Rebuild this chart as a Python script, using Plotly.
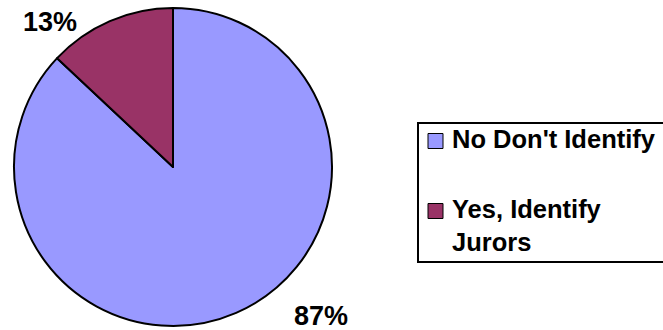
import plotly.graph_objects as go

labels = ["No Don't Identify", "Yes, Identify Jurors"]
legend_text = ["No Don't Identify", "Yes, Identify<br>Jurors"]
values = [87, 13]
colors = ["#9999FF", "#993366"]

W, H = 663, 330
def px(x):
    return x / W
def py(y):
    return 1 - y / H

cx, cy, r = 173, 167, 159

fig = go.Figure(go.Pie(
    labels=labels, values=values, sort=False, direction="clockwise", rotation=0,
    marker=dict(colors=colors, line=dict(color="black", width=2)),
    textinfo="none", hoverinfo="label+percent", showlegend=False,
    domain=dict(x=[px(cx - r), px(cx + r)], y=[py(cy + r), py(cy - r)]),
))

font = dict(family="Arial, 'Liberation Sans', sans-serif", color="black")
total = sum(values)
pct = [f"{round(v * 100 / total)}%" for v in values]
label_pos = [(321, 316), (50, 22)]
annotations = []
for t, (x, y) in zip(pct, label_pos):
    annotations.append(dict(x=px(x), y=py(y), xref="paper", yref="paper", text=f"<b>{t}</b>",
                            showarrow=False, xanchor="center", yanchor="middle",
                            font=dict(size=27, **font)))

shapes = [dict(type="rect", xref="paper", yref="paper", x0=px(418), x1=px(680), y0=py(262), y1=py(123),
               line=dict(color="black", width=2), fillcolor="white", layer="above")]
item_y = [141, 211]
for t, c, y in zip(legend_text, colors, item_y):
    shapes.append(dict(type="rect", xref="paper", yref="paper", x0=px(428), x1=px(443),
                       y0=py(y + 7.5), y1=py(y - 7.5), line=dict(color="black", width=1), fillcolor=c, layer="above"))
    annotations.append(dict(x=px(450), y=py(y - 18), xref="paper", yref="paper", text=f"<b>{t}</b>",
                            showarrow=False, xanchor="left", yanchor="top", align="left",
                            font=dict(size=25.5, **font)))

fig.update_layout(width=W, height=H, margin=dict(l=0, r=0, t=0, b=0),
                  paper_bgcolor="white", plot_bgcolor="white",
                  shapes=shapes, annotations=annotations)
fig.write_html("out.html")
